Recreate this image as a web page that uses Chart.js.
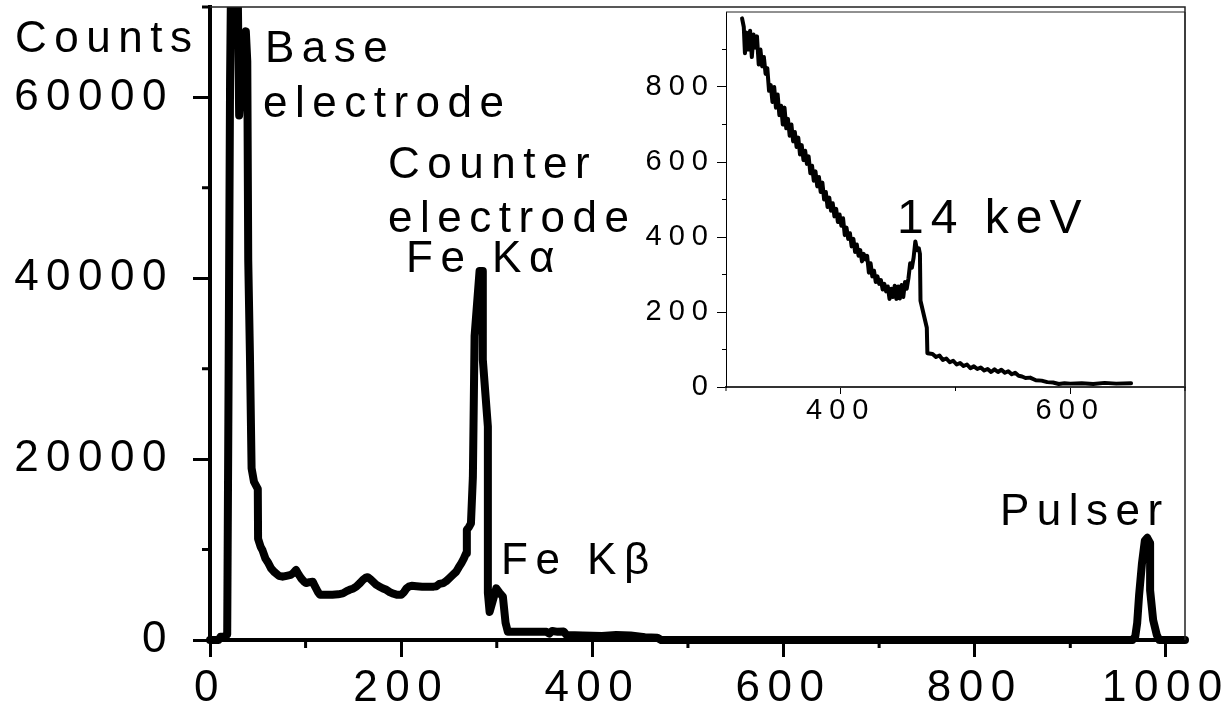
<!DOCTYPE html>
<html lang="en">
<head>
  <meta charset="utf-8" />
  <title>Spectrum with 14 keV inset</title>
  <script src="https://cdn.jsdelivr.net/npm/chart.js@4.4.1/dist/chart.umd.min.js"></script>
  <style>
    html, body { margin: 0; padding: 0; background: #fff; }
    #wrap { position: relative; width: 1225px; height: 709px; overflow: hidden; }
    #main { position: absolute; left: 0; top: 0; }
    #inset { position: absolute; left: 600px; top: 0; }
  </style>
</head>
<body>
<div id="wrap">
  <canvas id="main" width="1225" height="709"></canvas>
  <canvas id="inset" width="625" height="440"></canvas>
</div>
<script>
// main spectrum (channel, counts)
const mainChannel = [
  0, 9, 11, 15, 18, 19.5, 21, 22.5, 26, 29, 30.5, 32.5, 35, 37.5, 39, 40, 41.8, 43.5, 46, 50,
  50.3, 53, 55, 58, 60.5, 64, 67.5, 72, 76, 80, 84.5, 87, 90, 93, 95.5, 98, 100.5, 104, 107.5, 110,
  113, 115, 120, 128, 134, 139, 143, 146, 150, 153, 157, 160, 163, 165, 168, 170.5, 174, 177.5, 181, 184.5,
  188, 191, 196, 200, 203, 205.5, 208, 211, 216, 222, 228, 234, 237, 240, 244, 247, 250.5, 254, 257.5, 260,
  263, 265.5, 268, 268.7, 271, 273, 275, 276.8, 282, 285.4, 285.4, 290.7, 290.7, 292.5, 296, 299.5, 303, 306.4, 309.2, 311.6,
  330, 352, 355, 358, 364, 370, 373, 390, 410, 425, 440, 455, 468, 472,
  965, 968, 970, 972, 975, 978, 980.5, 983.5, 983.5, 986.7, 990.5, 993, 1020,
];
const mainCounts = [
  0, 0, 350, 400, 600, 30000, 62000, 78000, 79000, 72000, 58000, 61000, 66000, 67300, 64000, 42000, 31400, 19000, 17500, 16700,
  11200, 10300, 9900, 9000, 8600, 7900, 7500, 7100, 7000, 7100, 7200, 7400, 7750, 7200, 6800, 6500, 6300, 6400, 6450, 5900,
  5300, 5000, 5000, 5000, 5050, 5150, 5400, 5550, 5700, 5900, 6300, 6650, 6900, 6950, 6700, 6450, 6100, 5900, 5700, 5550,
  5300, 5150, 5000, 5000, 5300, 5700, 5900, 6000, 5950, 5900, 5900, 5900, 5950, 6200, 6300, 6500, 6850, 7200, 7550, 8000,
  8500, 9000, 9600, 12200, 12500, 12900, 18000, 33600, 40800, 40800, 31000, 23600, 5200, 3100, 4400, 5700, 5200, 4800, 1900, 900,
  900, 900, 700, 1000, 900, 950, 550, 500, 450, 550, 500, 300, 250, 0,
  0, 400, 1900, 5000, 8500, 11000, 11300, 10700, 5500, 2200, 550, 0, 0,
];
const mainXTicks = [0, 200, 400, 600, 800, 1000];
const mainXMinor = [100, 300, 500, 700, 900];
const mainYTicks = [0, 20000, 40000, 60000];
const mainYMinor = [10000, 30000, 50000, 70000];

// inset: zoom on the 14 keV line
const insetChannel = [
  314, 315.5, 316.5, 318, 319.5, 321, 322.5, 324, 325.5, 327, 328.5, 330, 331.5, 333, 334.5, 336, 337.5, 339, 340.5, 342,
  343.5, 345, 346.5, 348, 349.5, 351, 352.5, 354, 355.5, 357, 358.5, 360, 361.5, 363, 364.5, 366, 367.5, 369, 370.5, 372,
  373.5, 375, 376.5, 378, 379.5, 381, 382.5, 384, 385.5, 387, 388.5, 390, 391.5, 393, 394.5, 396, 397.5, 399, 400.5, 402,
  403.5, 405, 406.5, 408, 409.5, 411, 412.5, 414, 415.5, 417, 418.5, 420, 421.5, 423, 424.5, 426, 427.5, 429, 430.5, 432,
  433.5, 435, 436.5, 438, 439.5, 441, 442.5, 444, 445.5, 447, 448.5, 450, 451.5, 453, 454.5, 456, 457.5, 459, 460.5, 462,
  463.5, 465, 466.5, 468, 469, 469.5, 475, 475.5, 480, 483, 486, 489, 492, 495, 498, 501, 504, 507, 510, 513,
  516, 519, 522, 525, 528, 531, 534, 537, 540, 543, 546, 549, 552, 555, 558, 561, 565, 570, 575, 580,
  585, 590, 595, 600, 610, 620, 630, 640, 653,
];
const insetCounts = [
  983, 960, 890, 945, 900, 950, 880, 940, 905, 935, 860, 900, 855, 880, 835, 850, 790, 805, 760, 800,
  745, 780, 725, 750, 700, 745, 690, 715, 670, 700, 655, 680, 640, 665, 620, 645, 605, 630, 595, 615,
  570, 590, 550, 575, 535, 560, 520, 545, 500, 520, 480, 505, 470, 490, 455, 475, 440, 460, 430, 450,
  405, 425, 395, 410, 375, 395, 360, 380, 350, 365, 335, 355, 340, 350, 305, 330, 295, 310, 280, 295,
  275, 285, 260, 275, 255, 268, 235, 262, 240, 270, 235, 268, 236, 272, 240, 280, 262, 290, 330, 318,
  345, 388, 365, 370, 355, 230, 158, 90, 88, 80, 84, 72, 76, 66, 70, 60, 64, 56, 60, 50,
  55, 48, 52, 44, 48, 40, 47, 40, 46, 38, 42, 34, 38, 30, 28, 24, 25, 18, 17, 13,
  12, 8, 10, 9, 10, 8, 11, 9, 10,
];
const insetXTicks = [400, 600];
const insetXMinor = [300, 500, 700];
const insetYTicks = [0, 200, 400, 600, 800];
const insetYMinor = [100, 300, 500, 700, 900];

const FONT = '"Liberation Sans", Arial, Helvetica, sans-serif';

const mainTexts = [
  { text: 'Counts', x: 15, y: 52, size: 44 },
  { text: 'Base', x: 265, y: 62, size: 44 },
  { text: 'electrode', x: 263, y: 117, size: 44 },
  { text: 'Counter', x: 388, y: 178, size: 44 },
  { text: 'electrode', x: 388, y: 232, size: 44 },
  { text: 'Fe K\u03b1', x: 406, y: 272, size: 44 },
  { text: 'Fe K\u03b2', x: 501, y: 574, size: 44 },
  { text: 'Pulser', x: 1000, y: 525, size: 44 },
];
const insetTexts = [
  { text: '14 keV', x: 297, y: 233, size: 48 },
];

function toPoints(xs, ys) {
  return xs.map((x, i) => ({ x, y: ys[i] }));
}

function fixedTicks(values) {
  return (scale) => { scale.ticks = values.map((value) => ({ value })); };
}

// frame lines, short minor ticks and free text
function makeFrame(cfg) {
  return {
    id: 'frame',
    beforeDraw(chart) {
      chart.ctx.letterSpacing = cfg.spacing + 'px';
    },
    afterDraw(chart) {
      const { ctx, chartArea: a, scales: { x, y } } = chart;
      ctx.save();
      ctx.strokeStyle = '#222';
      ctx.lineWidth = cfg.frameWidth;
      ctx.beginPath();
      ctx.moveTo(a.left, a.top);
      ctx.lineTo(a.right, a.top);
      ctx.lineTo(a.right, a.bottom);
      ctx.stroke();

      ctx.strokeStyle = '#000';
      ctx.lineWidth = cfg.minorWidth;
      ctx.beginPath();
      for (const v of cfg.xMinor) {
        const px = x.getPixelForValue(v);
        ctx.moveTo(px, a.bottom);
        ctx.lineTo(px, a.bottom + cfg.xMinorLen);
      }
      for (const v of cfg.yMinor) {
        const py = y.getPixelForValue(v);
        ctx.moveTo(a.left, py);
        ctx.lineTo(a.left - cfg.yMinorLen, py);
      }
      ctx.stroke();

      ctx.fillStyle = '#000';
      ctx.textAlign = 'left';
      ctx.textBaseline = 'alphabetic';
      for (const t of cfg.texts) {
        ctx.font = `${t.size}px ${FONT}`;
        ctx.letterSpacing = cfg.spacing + 'px';
        ctx.fillText(t.text, t.x, t.y);
      }
      ctx.restore();
    },
  };
}

new Chart(document.getElementById('main'), {
  type: 'line',
  data: {
    datasets: [{
      data: toPoints(mainChannel, mainCounts),
      borderColor: '#000',
      borderWidth: 8,
      borderJoinStyle: 'round',
      borderCapStyle: 'round',
      pointRadius: 0,
      tension: 0,
      clip: { left: 4, right: 4, top: 0, bottom: 4 },
    }],
  },
  options: {
    responsive: false,
    animation: false,
    events: [],
    layout: { padding: { left: 0, top: 7, right: 40, bottom: 0 } },
    plugins: { legend: { display: false }, tooltip: { enabled: false } },
    scales: {
      x: {
        type: 'linear',
        min: 0,
        max: 1020,
        afterBuildTicks: fixedTicks(mainXTicks),
        afterFit: (s) => { s.height = 69; s.paddingLeft = 0; s.paddingRight = 0; },
        grid: { drawOnChartArea: false, drawTicks: true, tickLength: 17, tickWidth: 3, tickColor: '#000' },
        border: { display: true, width: 4, color: '#000' },
        ticks: {
          autoSkip: false, maxRotation: 0, padding: 5, color: '#000',
          font: { family: FONT, size: 44 },
          callback: (v) => String(v),
        },
      },
      y: {
        type: 'linear',
        min: 0,
        max: 70000,
        afterBuildTicks: fixedTicks(mainYTicks),
        afterFit: (s) => { s.width = 210; s.paddingTop = 0; s.paddingBottom = 0; },
        grid: { drawOnChartArea: false, drawTicks: true, tickLength: 17, tickWidth: 3, tickColor: '#000' },
        border: { display: true, width: 4, color: '#000' },
        ticks: {
          autoSkip: false, padding: 19, color: '#000',
          font: { family: FONT, size: 44 },
          callback: (v) => String(v),
        },
      },
    },
  },
  plugins: [makeFrame({
    spacing: 7.5, frameWidth: 1.5, minorWidth: 3, xMinorLen: 8, yMinorLen: 8,
    xMinor: mainXMinor, yMinor: mainYMinor, texts: mainTexts,
  })],
});

new Chart(document.getElementById('inset'), {
  type: 'line',
  data: {
    datasets: [{
      data: toPoints(insetChannel, insetCounts),
      borderColor: '#000',
      borderWidth: 4,
      borderJoinStyle: 'round',
      borderCapStyle: 'round',
      pointRadius: 0,
      tension: 0,
    }],
  },
  options: {
    responsive: false,
    animation: false,
    events: [],
    layout: { padding: { left: 0, top: 12, right: 40, bottom: 0 } },
    plugins: { legend: { display: false }, tooltip: { enabled: false } },
    scales: {
      x: {
        type: 'linear',
        min: 300,
        max: 700,
        afterBuildTicks: fixedTicks(insetXTicks),
        afterFit: (s) => { s.height = 53; s.paddingLeft = 0; s.paddingRight = 0; },
        grid: { drawOnChartArea: false, drawTicks: true, tickLength: 7, tickWidth: 1, tickColor: '#000' },
        border: { display: true, width: 2, color: '#333' },
        ticks: {
          autoSkip: false, maxRotation: 0, padding: 0, color: '#000',
          font: { family: FONT, size: 29 },
          callback: (v) => String(v),
        },
      },
      y: {
        type: 'linear',
        min: 0,
        max: 1000,
        afterBuildTicks: fixedTicks(insetYTicks),
        afterFit: (s) => { s.width = 126; s.paddingTop = 0; s.paddingBottom = 0; },
        grid: { drawOnChartArea: false, drawTicks: true, tickLength: 9, tickWidth: 1, tickColor: '#000' },
        border: { display: true, width: 1, color: '#000' },
        ticks: {
          autoSkip: false, padding: 2, color: '#000',
          font: { family: FONT, size: 29 },
          callback: (v) => String(v),
        },
      },
    },
  },
  plugins: [makeFrame({
    spacing: 7, frameWidth: 1, minorWidth: 1, xMinorLen: 4, yMinorLen: 4,
    xMinor: insetXMinor, yMinor: insetYMinor, texts: insetTexts,
  })],
});
</script>
</body>
</html>
